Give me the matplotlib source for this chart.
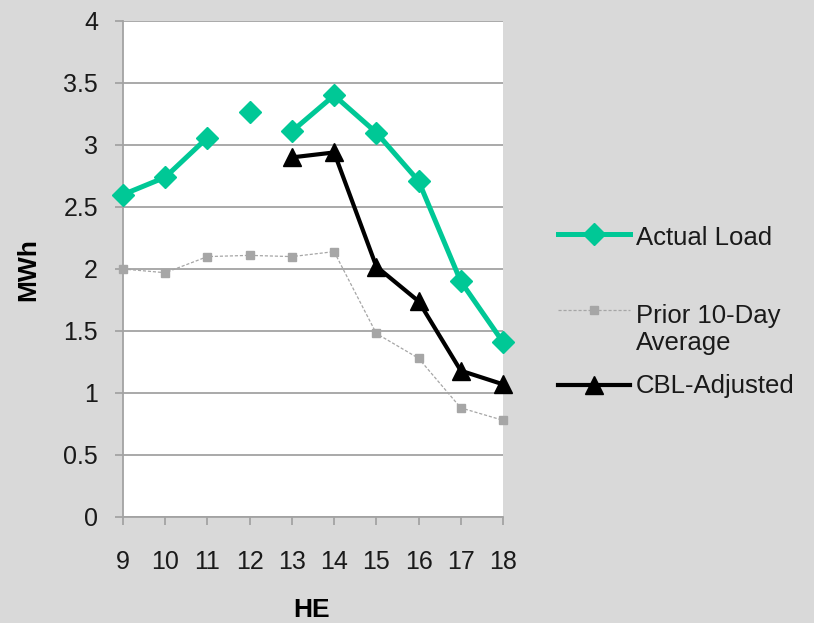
import matplotlib
matplotlib.use("Agg")
import matplotlib.pyplot as plt
from matplotlib.lines import Line2D
import numpy as np

plt.rcParams['font.family'] = ['Liberation Sans', 'DejaVu Sans']

hours = [9, 10, 11, 12, 13, 14, 15, 16, 17, 18]
actual_load = [2.60, 2.74, 3.06, 3.27, 3.11, 3.40, 3.10, 2.71, 1.90, 1.41]
prior_avg = [2.00, 1.97, 2.10, 2.11, 2.10, 2.14, 1.48, 1.28, 0.88, 0.78]
cbl_hours = [13, 14, 15, 16, 17, 18]
cbl_adjusted = [2.90, 2.94, 2.02, 1.74, 1.18, 1.07]
y_ticks = [0, 0.5, 1, 1.5, 2, 2.5, 3, 3.5, 4]
y_tick_labels = ["0", "0.5", "1", "1.5", "2", "2.5", "3", "3.5", "4"]
series_names = [["Actual Load"], ["Prior 10-Day", "Average"], ["CBL-Adjusted"]]

GREEN = "#00c896"
GRAY_MK = "#a6a6a6"
BG = "#d9d9d9"
GRID = "#a3a3a3"
TXT = "#1a1a1a"

fig = plt.figure(figsize=(8.14, 6.23), dpi=100, facecolor=BG)
ax = fig.add_axes([123 / 814, 1 - 517 / 623, 380 / 814, 496 / 623])
ax.set_facecolor("white")

x = np.array(hours, dtype=float)
al = np.array(actual_load, dtype=float)

# Actual load line has no segments joining hour 12 to its neighbours
ax.plot(x[:3], al[:3], color=GREEN, lw=3.6, zorder=4, solid_capstyle="butt")
ax.plot(x[4:], al[4:], color=GREEN, lw=3.6, zorder=4, solid_capstyle="butt")
ax.plot(x, al, ls="none", marker="D", ms=11, color=GREEN, zorder=5, clip_on=False)

ax.plot(x, prior_avg, color=GRAY_MK, lw=0.9, ls=(0, (2.5, 1.5)), marker="s", ms=6,
        mfc=GRAY_MK, mec=GRAY_MK, zorder=3, clip_on=False)

ax.plot(cbl_hours, cbl_adjusted, color="black", lw=3.0, marker="^", ms=13,
        zorder=6, clip_on=False)

ax.set_xlim(9, 18)
ax.set_ylim(0, 4)
ax.set_xticks(hours)
ax.set_xticklabels([str(h) for h in hours])
ax.set_yticks(y_ticks)
ax.set_yticklabels(y_tick_labels)

ax.yaxis.grid(True, color=GRID, lw=1.3)
ax.set_axisbelow(True)
for side in ["top", "right"]:
    ax.spines[side].set_visible(False)
for side in ["left", "bottom"]:
    ax.spines[side].set_color(GRID)
    ax.spines[side].set_linewidth(1.3)

ax.tick_params(axis="y", length=6, width=1.3, color=GRID, pad=12,
               labelsize=18, labelcolor=TXT)
ax.tick_params(axis="x", length=6, width=1.3, color=GRID, pad=18,
               labelsize=18, labelcolor=TXT)

fig.text(312 / 814, 1 - 610 / 623, "HE", ha="center", va="center",
         fontsize=19, fontweight="bold", color="black")
fig.text(28 / 814, 1 - 270 / 623, "MWh", ha="center", va="center",
         rotation=90, fontsize=19, fontweight="bold", color="black")

# Legend drawn in figure pixels
def fx(px):
    return px / 814

def fy(py):
    return 1 - py / 623

x0, x1 = 558, 630
xm = (x0 + x1) / 2
entries = [
    (234, [245], dict(color=GREEN, lw=3.6), dict(marker="D", ms=11, color=GREEN)),
    (310, [323, 350], dict(color=GRAY_MK, lw=0.9, ls=(0, (2.5, 1.5))),
     dict(marker="s", ms=6, color=GRAY_MK)),
    (385, [393], dict(color="black", lw=3.0), dict(marker="^", ms=13, color="black")),
]
for (yy, baselines, lkw, mkw), lines in zip(entries, series_names):
    fig.add_artist(Line2D([fx(x0), fx(x1)], [fy(yy), fy(yy)],
                          transform=fig.transFigure, **lkw))
    fig.add_artist(Line2D([fx(xm)], [fy(yy)], transform=fig.transFigure,
                          ls="none", **mkw))
    for b, line in zip(baselines, lines):
        fig.text(fx(636), fy(b), line, ha="left", va="baseline",
                 fontsize=18.5, color=TXT)

fig.savefig("out.png", dpi=100, facecolor=BG)
